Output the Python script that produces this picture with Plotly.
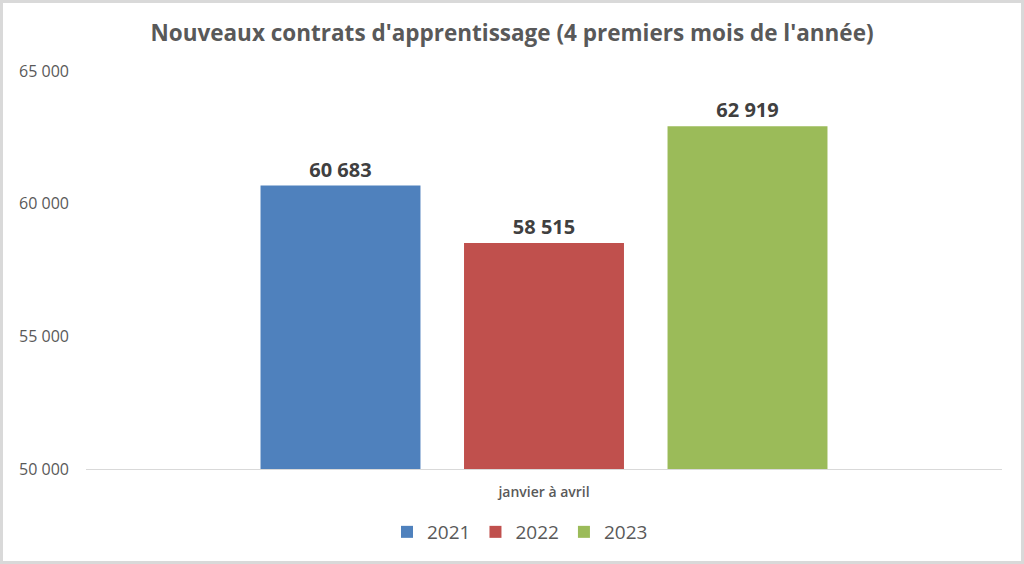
import plotly.graph_objects as go

categories = ["janvier à avril"]
years = ["2021", "2022", "2023"]
values = [60683, 58515, 62919]
colors = ["#4F81BD", "#C0504D", "#9BBB59"]
ytick_vals = [50000, 55000, 60000, 65000]

W, H = 1024, 564
ML, MR, MT, MB = 86, 22, 71, 95
PW, PH = W - ML - MR, H - MT - MB

fig = go.Figure()
for yr, v, c in zip(years, values, colors):
    fig.add_trace(go.Bar(
        name=yr, x=categories, y=[v], marker=dict(color=c, line=dict(width=0)),
        text=[v], texttemplate="%{y:,}", textposition="outside", cliponaxis=False,
        textfont=dict(family="Open Sans", size=20, color="#404040", weight="bold"),
    ))

def px_x(p):
    return (p - ML) / PW

def px_y(p):
    return (MT + PH - p) / PH

fig.update_layout(
    width=W, height=H,
    margin=dict(l=ML, r=MR, t=MT, b=MB, autoexpand=False),
    paper_bgcolor="white", plot_bgcolor="white",
    separators=", ",
    barmode="group", bargap=0.3335, bargroupgap=0.214,
    title=dict(text="<b>Nouveaux contrats d'apprentissage (4 premiers mois de l'année)</b>",
               x=0.5, xanchor="center", y=1 - 33 / H, yanchor="middle",
               font=dict(family="Open Sans", size=22.5, color="#595959")),
    font=dict(family="Open Sans", color="#595959"),
    xaxis=dict(showline=True, linecolor="#D9D9D9", linewidth=1, showgrid=False,
               ticks="", ticklabelstandoff=10,
               tickfont=dict(size=14, color="#595959", weight=600)),
    yaxis=dict(range=[50000, 65000], tickvals=ytick_vals, tickformat=",d",
               showgrid=False, zeroline=False, showline=False, ticks="",
               ticklabelstandoff=16,
               tickfont=dict(size=16, color="#595959", weight=500)),
    legend=dict(orientation="h", x=px_x(520), xanchor="center", y=px_y(532), yanchor="middle",
                font=dict(size=19, color="#595959"), traceorder="normal", itemwidth=30),
    showlegend=True,
    shapes=[dict(type="rect", xref="paper", yref="paper",
                 x0=px_x(1.5), x1=px_x(1022.5), y0=px_y(562.5), y1=px_y(1.5),
                 line=dict(color="#D9D9D9", width=3), fillcolor="rgba(0,0,0,0)", layer="below")],
)

fig.write_html("out.html", config={"displayModeBar": False},
               post_script="document.body.style.margin='0';document.body.style.overflow='hidden';")
